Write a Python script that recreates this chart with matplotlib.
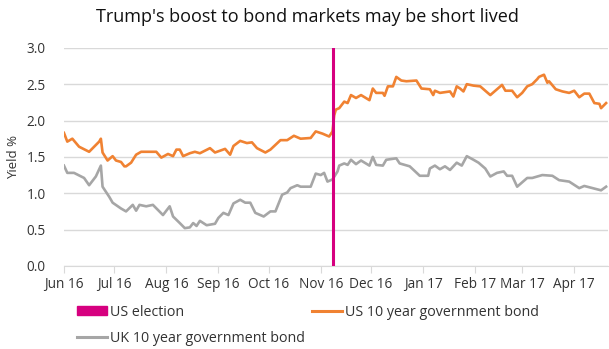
import pandas as pd
import matplotlib
matplotlib.use("Agg")
import matplotlib.pyplot as plt
from matplotlib.lines import Line2D
from matplotlib.patches import Patch

plt.rcParams["font.family"] = ["Open Sans", "DejaVu Sans"]

#US 10 year yields
us_dates = [
    "2016-06-01", "2016-06-03", "2016-06-06", "2016-06-10", "2016-06-16", "2016-06-22", "2016-06-23",
    "2016-06-24", "2016-06-27", "2016-06-30", "2016-07-02", "2016-07-05", "2016-07-07", "2016-07-08",
    "2016-07-11", "2016-07-14", "2016-07-17", "2016-07-20", "2016-07-26", "2016-07-29", "2016-08-02",
    "2016-08-05", "2016-08-07", "2016-08-09", "2016-08-11", "2016-08-15", "2016-08-18", "2016-08-21",
    "2016-08-27", "2016-08-30", "2016-09-05", "2016-09-08", "2016-09-10", "2016-09-14", "2016-09-18",
    "2016-09-21", "2016-09-24", "2016-09-29", "2016-10-02", "2016-10-08", "2016-10-12", "2016-10-16",
    "2016-10-20", "2016-10-26", "2016-10-29", "2016-11-02", "2016-11-06", "2016-11-08", "2016-11-09",
    "2016-11-10", "2016-11-12", "2016-11-15", "2016-11-17", "2016-11-19", "2016-11-22", "2016-11-25",
    "2016-11-30", "2016-12-02", "2016-12-04", "2016-12-08", "2016-12-09", "2016-12-11", "2016-12-14",
    "2016-12-16", "2016-12-19", "2016-12-22", "2016-12-28", "2016-12-31", "2017-01-05", "2017-01-07",
    "2017-01-08", "2017-01-11", "2017-01-17", "2017-01-19", "2017-01-21", "2017-01-23", "2017-01-25",
    "2017-01-27", "2017-01-31", "2017-02-04", "2017-02-10", "2017-02-14", "2017-02-17", "2017-02-19",
    "2017-02-23", "2017-02-26", "2017-03-01", "2017-03-04", "2017-03-07", "2017-03-10", "2017-03-11",
    "2017-03-14", "2017-03-16", "2017-03-17", "2017-03-21", "2017-03-25", "2017-03-29", "2017-04-01",
    "2017-04-04", "2017-04-07", "2017-04-10", "2017-04-13", "2017-04-16", "2017-04-17", "2017-04-20",
]
us_yield = [
    1.83, 1.71, 1.75, 1.64, 1.57, 1.71, 1.75,
    1.56, 1.45, 1.51, 1.45, 1.43, 1.37, 1.37,
    1.42, 1.53, 1.57, 1.57, 1.57, 1.49, 1.54,
    1.51, 1.60, 1.60, 1.51, 1.55, 1.57, 1.55,
    1.62, 1.56, 1.61, 1.53, 1.65, 1.72, 1.69,
    1.70, 1.62, 1.56, 1.60, 1.73, 1.73, 1.79,
    1.75, 1.76, 1.85, 1.82, 1.78, 1.85, 2.07,
    2.15, 2.17, 2.26, 2.24, 2.35, 2.31, 2.35,
    2.28, 2.44, 2.38, 2.38, 2.34, 2.47, 2.47,
    2.60, 2.55, 2.54, 2.55, 2.44, 2.43, 2.35,
    2.41, 2.38, 2.40, 2.33, 2.47, 2.44, 2.40,
    2.50, 2.48, 2.47, 2.35, 2.43, 2.49, 2.41,
    2.41, 2.32, 2.38, 2.47, 2.50, 2.57, 2.60,
    2.63, 2.52, 2.54, 2.43, 2.40, 2.38, 2.41,
    2.32, 2.37, 2.37, 2.24, 2.23, 2.17, 2.24,
]

#UK 10 year yields
uk_dates = [
    "2016-06-01", "2016-06-03", "2016-06-07", "2016-06-13", "2016-06-16", "2016-06-20", "2016-06-23",
    "2016-06-24", "2016-06-28", "2016-06-30", "2016-07-05", "2016-07-08", "2016-07-12", "2016-07-14",
    "2016-07-16", "2016-07-20", "2016-07-24", "2016-07-30", "2016-08-03", "2016-08-05", "2016-08-09",
    "2016-08-12", "2016-08-15", "2016-08-17", "2016-08-19", "2016-08-21", "2016-08-25", "2016-08-30",
    "2016-09-01", "2016-09-04", "2016-09-07", "2016-09-10", "2016-09-14", "2016-09-17", "2016-09-20",
    "2016-09-23", "2016-09-28", "2016-10-02", "2016-10-05", "2016-10-09", "2016-10-12", "2016-10-14",
    "2016-10-18", "2016-10-20", "2016-10-26", "2016-10-29", "2016-11-01", "2016-11-03", "2016-11-05",
    "2016-11-08", "2016-11-11", "2016-11-12", "2016-11-15", "2016-11-17", "2016-11-19", "2016-11-22",
    "2016-11-25", "2016-11-30", "2016-12-02", "2016-12-04", "2016-12-08", "2016-12-10", "2016-12-16",
    "2016-12-18", "2016-12-24", "2016-12-30", "2017-01-04", "2017-01-05", "2017-01-08", "2017-01-11",
    "2017-01-14", "2017-01-17", "2017-01-21", "2017-01-24", "2017-01-27", "2017-01-31", "2017-02-03",
    "2017-02-07", "2017-02-10", "2017-02-14", "2017-02-18", "2017-02-20", "2017-02-23", "2017-02-26",
    "2017-03-01", "2017-03-04", "2017-03-07", "2017-03-13", "2017-03-19", "2017-03-23", "2017-03-29",
    "2017-04-04", "2017-04-07", "2017-04-12", "2017-04-17", "2017-04-20",
]
uk_yield = [
    1.38, 1.28, 1.28, 1.21, 1.11, 1.23, 1.38,
    1.09, 0.95, 0.87, 0.79, 0.75, 0.84, 0.76,
    0.84, 0.82, 0.84, 0.70, 0.82, 0.68, 0.59,
    0.52, 0.53, 0.59, 0.55, 0.62, 0.56, 0.58,
    0.66, 0.73, 0.70, 0.86, 0.91, 0.87, 0.87,
    0.73, 0.68, 0.75, 0.75, 0.98, 1.01, 1.07,
    1.11, 1.09, 1.09, 1.27, 1.25, 1.28, 1.16,
    1.19, 1.30, 1.38, 1.41, 1.39, 1.46, 1.40,
    1.45, 1.38, 1.50, 1.39, 1.38, 1.46, 1.48,
    1.41, 1.37, 1.24, 1.24, 1.34, 1.38, 1.33,
    1.37, 1.32, 1.42, 1.38, 1.51, 1.46, 1.42,
    1.34, 1.23, 1.28, 1.30, 1.24, 1.24, 1.09,
    1.15, 1.21, 1.21, 1.25, 1.24, 1.18, 1.16,
    1.07, 1.10, 1.07, 1.04, 1.09,
]

election_date = "2016-11-08"
month_ticks = ["2016-06-01", "2016-07-01", "2016-08-01", "2016-09-01", "2016-10-01", "2016-11-01",
               "2016-12-01", "2017-01-01", "2017-02-01", "2017-03-01", "2017-04-01"]
month_labels = ["Jun 16", "Jul 16", "Aug 16", "Sep 16", "Oct 16", "Nov 16",
                "Dec 16", "Jan 17", "Feb 17", "Mar 17", "Apr 17"]
y_ticks = [0, 0.5, 1.0, 1.5, 2.0, 2.5, 3.0]

orange = "#F08232"
grey = "#A6A6A6"
magenta = "#D6007F"
text_col = "#333333"

fig = plt.figure(figsize=(6.09, 3.49), dpi=100)
ax = fig.add_axes([0.105, 0.238, 0.893, 0.625])

ax.plot(pd.to_datetime(us_dates), us_yield, color=orange, lw=1.9, zorder=3)
ax.plot(pd.to_datetime(uk_dates), uk_yield, color=grey, lw=1.9, zorder=3)
ax.axvline(pd.to_datetime(election_date), color=magenta, lw=2.2, zorder=4)

ax.set_xlim(pd.to_datetime("2016-06-01"), pd.to_datetime("2017-04-21"))
ax.set_ylim(0, 3.0)
ax.set_yticks(y_ticks)
ax.set_yticklabels([f"{v:.1f}" for v in y_ticks])
ax.set_xticks(pd.to_datetime(month_ticks))
ax.set_xticklabels(month_labels)

ax.grid(axis="y", color="#D9D9D9", lw=1.0)
ax.set_axisbelow(True)
for s in ["top", "right", "left"]:
    ax.spines[s].set_visible(False)
ax.spines["bottom"].set_color("#D9D9D9")
ax.tick_params(axis="y", length=0, pad=13, labelsize=9.8, labelcolor=text_col)
ax.tick_params(axis="x", length=5, color="#D9D9D9", pad=3, labelsize=9.8, labelcolor=text_col)
ax.set_ylabel("Yield %", fontsize=9.5, color=text_col, labelpad=5)

fig.text(0.505, 0.951, "Trump's boost to bond markets may be short lived",
         ha="center", va="center", fontsize=13, color="#111111")

handles = [
    Patch(color=magenta),
    Line2D([], [], color=grey, lw=2.2),
    Line2D([], [], color=orange, lw=2.2),
]
labels = ["US election", "UK 10 year government bond", "US 10 year government bond"]
fig.legend(handles, labels, ncol=2, loc="upper left", bbox_to_anchor=(0.126, 0.127),
           frameon=False, fontsize=10.3, handlelength=2.1, handleheight=0.55,
           handletextpad=0.2, columnspacing=0.55, labelspacing=0.8,
           borderaxespad=0, borderpad=0, labelcolor=text_col)

fig.savefig("out.png", dpi=100)
